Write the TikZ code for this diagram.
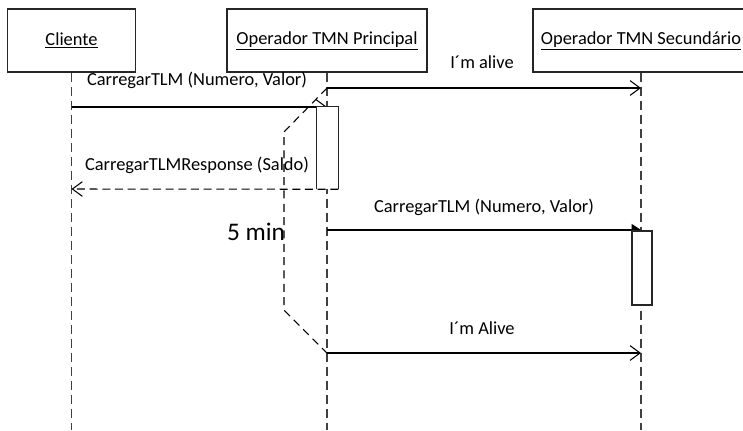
\documentclass[tikz,border=0pt]{standalone}
\usepackage{fontspec}
\setmainfont{Carlito}
\usetikzlibrary{arrows.meta}

\tikzset{
  objeto/.style={draw=black!85,line width=0.8pt,fill=white,minimum height=47.25pt,
    inner sep=0pt,font=\fontsize{13.8}{15}\selectfont},
  vida/.style={line width=0.8pt,black!75,dash pattern=on 7pt off 3.5pt},
  ativacao/.style={fill=white,minimum width=15.75pt,inner sep=0pt},
  mensagem/.style={line width=0.8pt,-{Straight Barb[length=7.5pt,width=11pt]}},
  chamada/.style={line width=0.8pt,-{Triangle[length=7pt,width=9pt]}},
  resposta/.style={line width=0.8pt,dash pattern=on 6pt off 3.5pt,
    -{Straight Barb[length=7.5pt,width=11pt]}},
  restricao/.style={line width=0.8pt,dash pattern=on 6pt off 4pt},
  rotulo/.style={font=\fontsize{13.8}{15}\selectfont,inner sep=1pt},
}

\begin{document}
\begin{tikzpicture}[x=0.75pt,y=-0.75pt]
  \useasboundingbox (0,0) rectangle (743,430);

  % Objetos.
  \node[objeto,minimum width=96pt] (cli) at (71.5,40.5) {\underline{Cliente}};
  \node[objeto,minimum width=150pt] (pri) at (327,40.5) {\underline{Operador TMN Principal}};
  \node[objeto,minimum width=162pt] (sec) at (641,40.5) {\underline{Operador TMN Secundário}};

  % Linhas de vida.
  \coordinate (clifim) at (71.5,430);
  \coordinate (prifim) at (327,430);
  \coordinate (secfim) at (641,430);
  \draw[vida] (cli.south) -- (clifim);
  \draw[vida] (pri.south) -- (prifim);
  \draw[vida] (sec.south) -- (secfim);

  % Mensagens.
  \coordinate (m1a) at (327,88);  \coordinate (m1b) at (641,88);
  \coordinate (m2a) at (71.5,107); \coordinate (m2b) at (327,107);
  \coordinate (m4a) at (327,230); \coordinate (m4b) at (641,230);
  \coordinate (m5a) at (327,353); \coordinate (m5b) at (641,353);
  \draw[mensagem] (m1a) -- (m1b);
  \draw[mensagem] (m2a) -- (m2b);
  \draw[chamada] (m4a) -- (m4b);
  \draw[mensagem] (m5a) -- (m5b);

  % Ativações.
  \node[ativacao,minimum height=61.5pt] (act1) at (327.5,148) {};
  \draw[line width=0.8pt,black!85] (act1.south west) -- (act1.north west)
    -- (act1.north east) -- (act1.south east);
  \node[ativacao,minimum width=15pt,minimum height=55.5pt,draw=black!85,line width=0.8pt]
    (act2) at (642,268) {};
  \coordinate (m3b) at (71.5,189);
  \draw[resposta] (act1.south east) -- (m3b);

  % Restrição de tempo.
  \coordinate (tc1) at (284,132);
  \coordinate (tc2) at (284,310);
  \draw[restricao] (m1a) -- (tc1) -- (tc2) -- (m5a);

  % Rótulos.
  \node[rotulo] (l1) at (482,62) {I´m alive};
  \node[rotulo] (l2) at (197,80) {CarregarTLM (Numero, Valor)};
  \node[rotulo] (l3) at (197,165) {CarregarTLMResponse (Saldo)};
  \node[rotulo] (l4) at (484,207) {CarregarTLM (Numero, Valor)};
  \node[rotulo,font=\fontsize{19}{21}\selectfont] (l5) at (256,232) {5 min};
  \node[rotulo] (l6) at (482,328) {I´m Alive};
\end{tikzpicture}
\end{document}
